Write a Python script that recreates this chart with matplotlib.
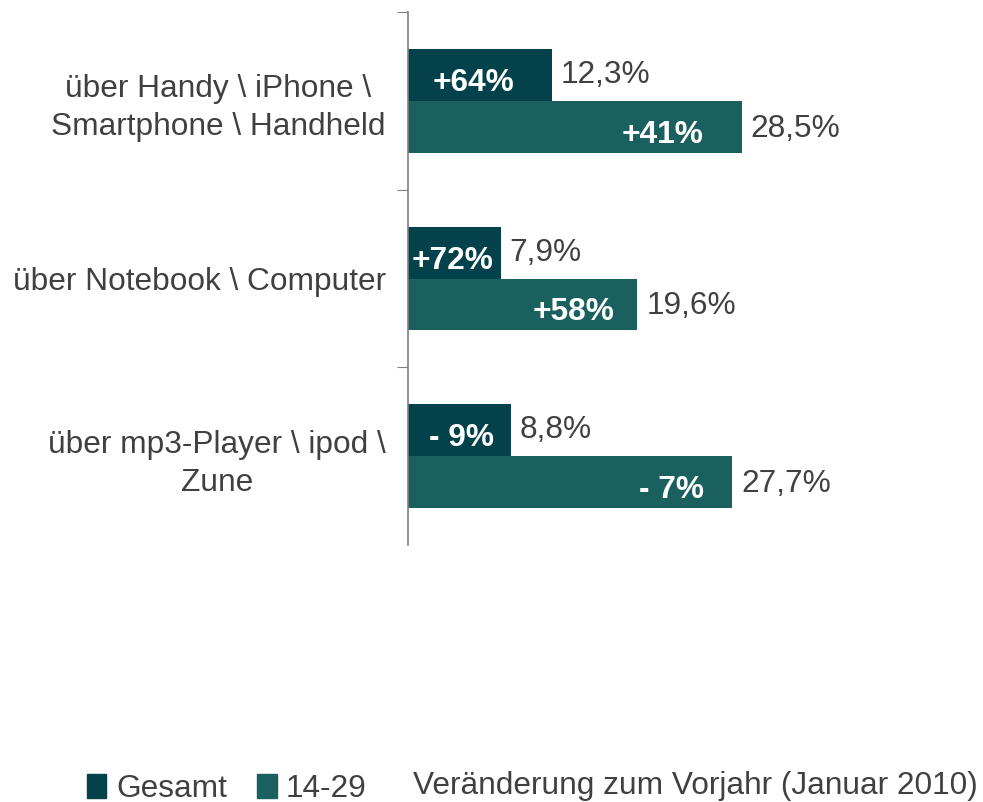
import matplotlib
matplotlib.use('Agg')
import matplotlib.pyplot as plt
from matplotlib.patches import Patch

plt.rcParams['font.family'] = ['Liberation Sans', 'DejaVu Sans']

# Daten
kategorien = ['über Handy \\ iPhone \\\nSmartphone \\ Handheld',
              'über Notebook \\ Computer',
              'über mp3-Player \\ ipod \\\nZune']
gesamt = [12.3, 7.9, 8.8]
jung = [28.5, 19.6, 27.7]
veraenderung_gesamt = ['+64%', '+72%', '- 9%']
veraenderung_jung = ['+41%', '+58%', '- 7%']
# Abstand der Veraenderungs-Labels vom Balkenende (Pixel)
abstand_gesamt = [38, 7, 17]
abstand_jung = [38, 23, 28]

c_gesamt = '#03424a'
c_jung = '#1a605f'
grau = '#404040'
fs = 22.8

fig = plt.figure(figsize=(9.83, 8.02), dpi=100)
ax = fig.add_axes([408/983, 1-545/802, 555/983, 533/802])

pos = range(len(kategorien))
h = 0.292
y_g = [p - h/2 for p in pos]
y_j = [p + h/2 for p in pos]
ax.barh(y_g, gesamt, height=h, color=c_gesamt)
ax.barh(y_j, jung, height=h, color=c_jung)

for i in pos:
    ax.annotate('{:.1f}%'.format(gesamt[i]).replace('.', ','), (gesamt[i], y_g[i]),
                textcoords='offset pixels', xytext=(9, 0), ha='left', va='center',
                fontsize=fs, color=grau)
    ax.annotate('{:.1f}%'.format(jung[i]).replace('.', ','), (jung[i], y_j[i]),
                textcoords='offset pixels', xytext=(9, -2), ha='left', va='center',
                fontsize=fs, color=grau)
    ax.annotate(veraenderung_gesamt[i], (gesamt[i], y_g[i]),
                textcoords='offset pixels', xytext=(-abstand_gesamt[i], -8),
                ha='right', va='center', fontsize=fs, color='white', fontweight='bold')
    ax.annotate(veraenderung_jung[i], (jung[i], y_j[i]),
                textcoords='offset pixels', xytext=(-abstand_jung[i], -8),
                ha='right', va='center', fontsize=fs, color='white', fontweight='bold')

ax.set_xlim(0, 47.4)
ax.set_ylim(2.5, -0.5)
ax.set_xticks([])
ax.set_yticks([-0.5, 0.5, 1.5])
ax.set_yticklabels([])
ax.set_yticks(list(pos), minor=True)
ax.set_yticklabels(kategorien, minor=True, fontsize=fs, color=grau)
ax.tick_params(axis='y', which='major', length=8, color='#808080', direction='out')
ax.tick_params(axis='y', which='minor', length=0, pad=16)
for lbl in ax.get_yticklabels(minor=True):
    lbl.set_multialignment('center')
    lbl.set_linespacing(1.35)
for s in ['top', 'right', 'bottom']:
    ax.spines[s].set_visible(False)
ax.spines['left'].set_color('#808080')
ax.spines['left'].set_linewidth(1.2)

fig.legend(handles=[Patch(color=c_gesamt, label='Gesamt'), Patch(color=c_jung, label='14-29')],
           loc='lower left', bbox_to_anchor=(71/983, -0.022), ncol=2, frameon=False,
           fontsize=fs, handlelength=0.62, handleheight=0.8, handletextpad=0.3,
           columnspacing=0.95, borderpad=0, labelcolor=grau)
fig.text(413/983, 1-786/802, 'Veränderung zum Vorjahr (Januar 2010)', fontsize=fs,
         color=grau, ha='left', va='center')

fig.savefig('out.png', dpi=100)
